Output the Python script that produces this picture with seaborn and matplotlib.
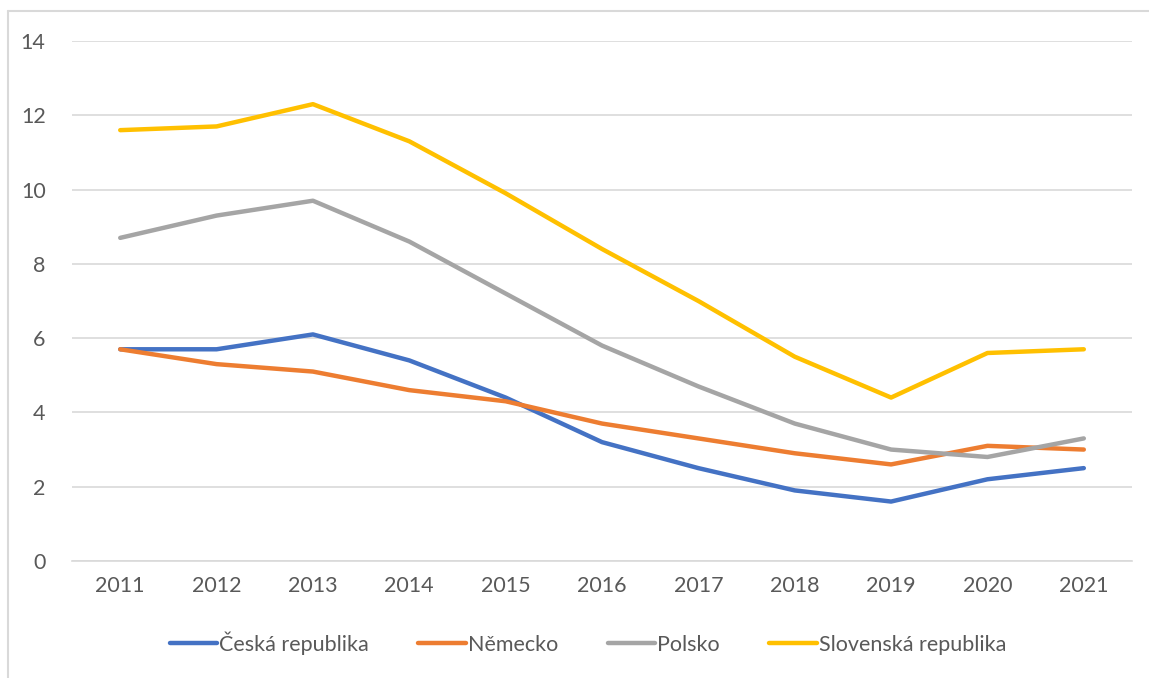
"""
Line chart: unemployment-like rates for CZ, DE, PL, SK 2011-2021.
"""

import matplotlib

matplotlib.use("Agg")
import matplotlib.pyplot as plt
import pandas as pd
import seaborn as sns
from matplotlib.lines import Line2D

# data
years = ["2011", "2012", "2013", "2014", "2015", "2016", "2017", "2018", "2019", "2020", "2021"]
ceska = [5.7, 5.7, 6.1, 5.4, 4.4, 3.2, 2.5, 1.9, 1.6, 2.2, 2.5]
nemecko = [5.7, 5.3, 5.1, 4.6, 4.3, 3.7, 3.3, 2.9, 2.6, 3.1, 3.0]
polsko = [8.7, 9.3, 9.7, 8.6, 7.2, 5.8, 4.7, 3.7, 3.0, 2.8, 3.3]
slovensko = [11.6, 11.7, 12.3, 11.3, 9.9, 8.4, 7.0, 5.5, 4.4, 5.6, 5.7]

series_names = ["Česká republika", "Německo", "Polsko", "Slovenská republika"]
colors = ["#4472C4", "#ED7D31", "#A5A5A5", "#FFC000"]
y_ticks = [0, 2, 4, 6, 8, 10, 12, 14]

# long-form table for seaborn
df = pd.DataFrame({
    "year": years * 4,
    "value": ceska + nemecko + polsko + slovensko,
    "country": [n for n in series_names for _ in years],
})

sns.set_style("white")
plt.rcParams["font.family"] = ["Lato", "DejaVu Sans"]

fig = plt.figure(figsize=(11.49, 6.78), dpi=100)
ax = fig.add_axes([0.0627, 0.1726, 0.9225, 0.7669])

sns.lineplot(data=df, x="year", y="value", hue="country", palette=colors,
             hue_order=series_names, linewidth=3.2, ax=ax, sort=False,
             solid_capstyle="round")

ax.set_xlim(-0.5, len(years) - 0.5)
ax.set_ylim(0, 14)
ax.set_yticks(y_ticks)
ax.yaxis.grid(True, color="#D9D9D9", linewidth=1.2)
ax.set_axisbelow(True)
for side in ["left", "right", "top"]:
    ax.spines[side].set_visible(False)
ax.spines["bottom"].set_color("#D9D9D9")
ax.spines["bottom"].set_linewidth(1.2)
ax.tick_params(axis="y", length=0, pad=19, labelsize=15.5, labelcolor="#595959")
ax.tick_params(axis="x", length=0, pad=11, labelsize=15.5, labelcolor="#595959")
ax.set_xlabel("")
ax.set_ylabel("")

ax.legend(loc="center", bbox_to_anchor=(588 / 1149, 1 - 643 / 678),
          bbox_transform=fig.transFigure, ncol=4, frameon=False,
          fontsize=15.5, labelcolor="#595959", handlelength=2.2,
          handletextpad=0.1, columnspacing=2.3)

# chart border (only left and top visible, the rest is cropped)
x0, y0 = 8 / 1149, 1 - 11 / 678
fig.add_artist(Line2D([x0, x0], [0, y0], color="#D9D9D9", linewidth=1.5))
fig.add_artist(Line2D([x0, 1], [y0, y0], color="#D9D9D9", linewidth=1.5))

fig.savefig("out.png", dpi=100)
